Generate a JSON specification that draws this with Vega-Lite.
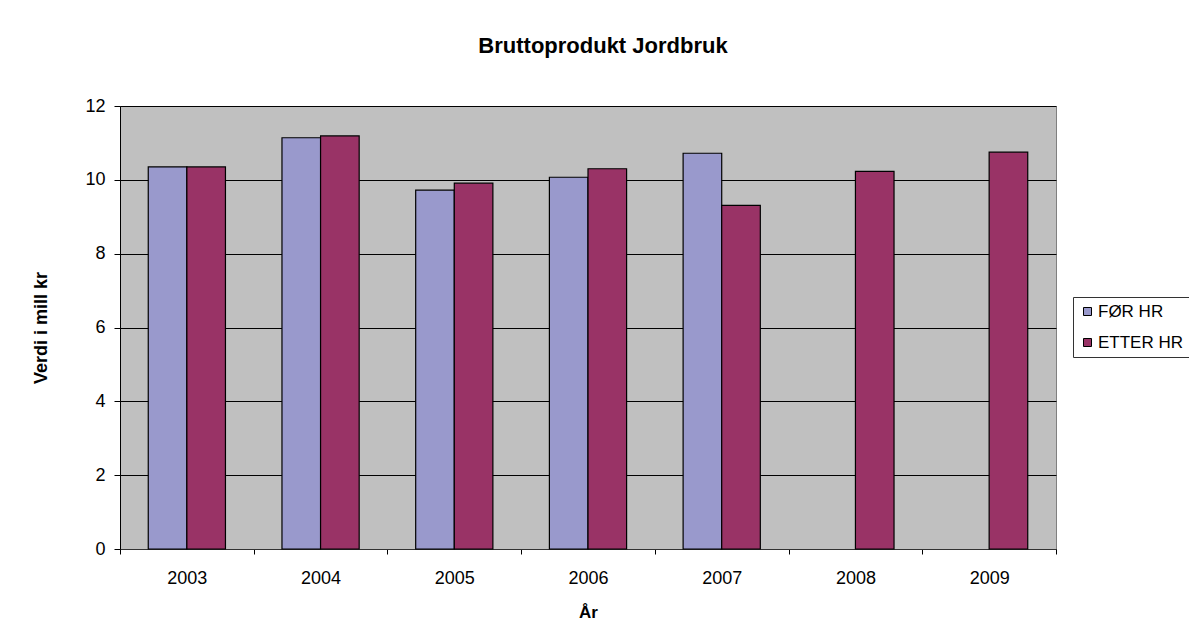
{
  "$schema": "https://vega.github.io/schema/vega-lite/v6.json",
  "width": 936,
  "height": 443,
  "autosize": "none",
  "padding": {"left": 120, "top": 106, "right": 133, "bottom": 92},
  "background": "white",
  "title": {
    "text": "Bruttoprodukt  Jordbruk",
    "font": "Liberation Sans",
    "fontSize": 22,
    "fontWeight": "bold",
    "color": "black",
    "anchor": "middle",
    "baseline": "alphabetic",
    "dx": 15,
    "offset": 22
  },
  "data": {
    "values": [
      {"year": "2003", "serie": "FØR HR", "value": 10.35},
      {"year": "2003", "serie": "ETTER HR", "value": 10.35},
      {"year": "2004", "serie": "FØR HR", "value": 11.14},
      {"year": "2004", "serie": "ETTER HR", "value": 11.19},
      {"year": "2005", "serie": "FØR HR", "value": 9.72},
      {"year": "2005", "serie": "ETTER HR", "value": 9.91},
      {"year": "2006", "serie": "FØR HR", "value": 10.07},
      {"year": "2006", "serie": "ETTER HR", "value": 10.3},
      {"year": "2007", "serie": "FØR HR", "value": 10.72},
      {"year": "2007", "serie": "ETTER HR", "value": 9.31},
      {"year": "2008", "serie": "ETTER HR", "value": 10.23},
      {"year": "2009", "serie": "ETTER HR", "value": 10.75}
    ]
  },
  "mark": {"type": "bar", "stroke": "black", "strokeWidth": 1.2},
  "encoding": {
    "x": {
      "field": "year",
      "type": "nominal",
      "sort": ["2003", "2004", "2005", "2006", "2007", "2008", "2009"],
      "scale": {"paddingInner": 0, "paddingOuter": 0},
      "axis": {
        "title": "År",
        "labelAngle": 0,
        "grid": false,
        "tickBand": "extent",
        "tickSize": 5,
        "tickColor": "black",
        "domainColor": "#333333",
        "labelFontSize": 18,
        "labelPadding": 15,
        "titleFontSize": 17,
        "titleFontWeight": "bold",
        "titleX": 468,
        "titleY": 68,
        "titleBaseline": "alphabetic",
        "titleAlign": "center"
      }
    },
    "xOffset": {
      "field": "serie",
      "type": "nominal",
      "sort": ["FØR HR", "ETTER HR"],
      "scale": {"paddingInner": 0, "paddingOuter": 0.732}
    },
    "y": {
      "field": "value",
      "type": "quantitative",
      "scale": {"domain": [0, 12], "nice": false},
      "axis": {
        "title": "Verdi i mill kr",
        "values": [0, 2, 4, 6, 8, 10, 12],
        "grid": true,
        "gridColor": "black",
        "gridOpacity": 1,
        "gridWidth": 1,
        "tickSize": 6,
        "tickColor": "black",
        "domainColor": "black",
        "labelFontSize": 18,
        "labelPadding": 9,
        "titleFontSize": 18,
        "titleFontWeight": "bold",
        "titleX": -74,
        "titleY": 221.5,
        "titleAngle": -90,
        "titleBaseline": "alphabetic",
        "titleAlign": "center"
      }
    },
    "color": {
      "field": "serie",
      "type": "nominal",
      "sort": ["FØR HR", "ETTER HR"],
      "scale": {"domain": ["FØR HR", "ETTER HR"], "range": ["#9999CC", "#993366"]},
      "legend": {
        "title": null,
        "orient": "none",
        "legendX": 953,
        "legendY": 191,
        "strokeColor": "#333333",
        "fillColor": "white",
        "padding": 6,
        "symbolType": "square",
        "symbolSize": 64,
        "symbolStrokeColor": "black",
        "symbolStrokeWidth": 1,
        "symbolOpacity": 1,
        "labelFontSize": 17,
        "labelOffset": 2,
        "rowPadding": 13,
        "labelColor": "black"
      }
    }
  },
  "config": {
    "font": "Liberation Sans",
    "view": {"fill": "#C0C0C0", "stroke": "#808080", "strokeWidth": 1},
    "axis": {
      "labelFont": "Liberation Sans",
      "titleFont": "Liberation Sans",
      "labelColor": "black",
      "titleColor": "black",
      "domainWidth": 1,
      "tickWidth": 1
    },
    "legend": {"labelFont": "Liberation Sans"}
  }
}
